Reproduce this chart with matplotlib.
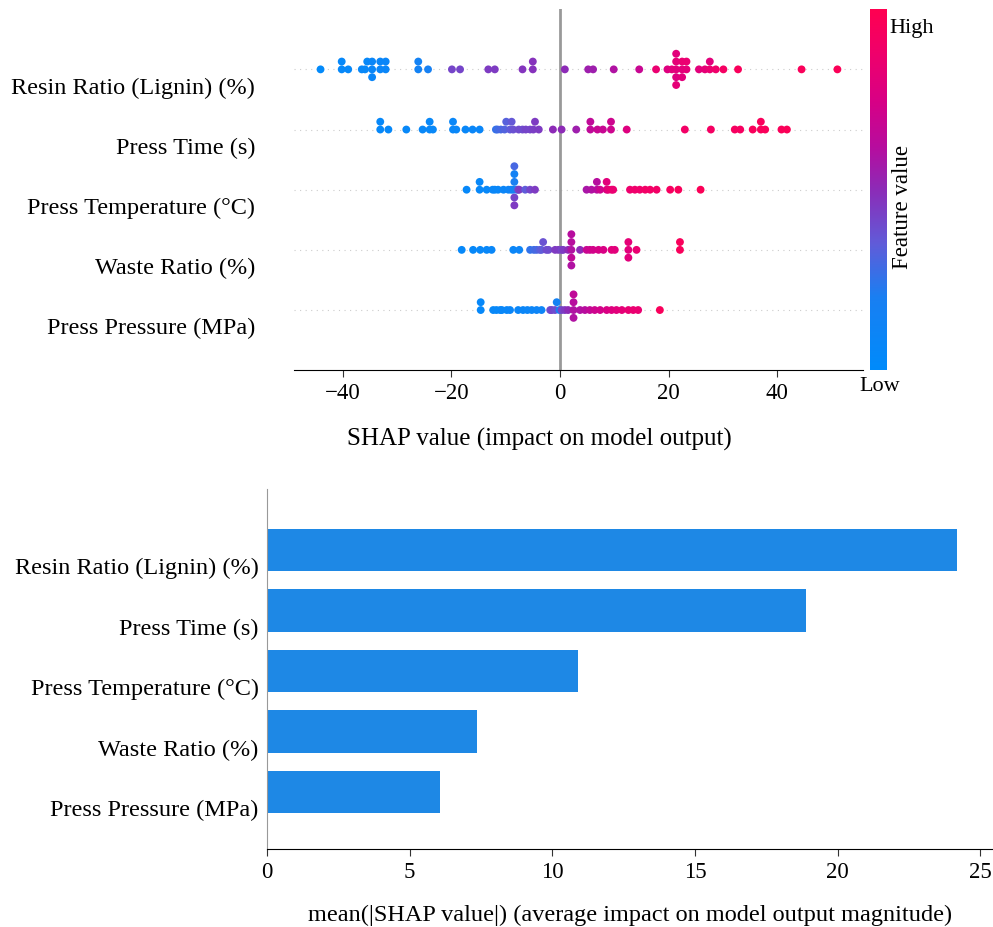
import numpy as np
import matplotlib
matplotlib.use("Agg")
import matplotlib.pyplot as plt
from matplotlib.colors import LinearSegmentedColormap

plt.rcParams['font.family'] = ['Liberation Serif', 'DejaVu Serif']

# features, top row first
features = ["Resin Ratio (Lignin) (%)", "Press Time (s)", "Press Temperature (°C)",
            "Waste Ratio (%)", "Press Pressure (MPa)"]

# shap values per feature
shap_resin = [-44.1, -40.2, -40.2, -39.0, -36.5, -35.9, -35.5, -34.6, -34.6, -34.6, -33.1, -33.1,
              -32.1, -32.1, -26.1, -26.1, -24.3, -19.9, -18.4, -13.2, -12.0, -6.9, -5.0, -5.0,
              0.9, 5.2, 6.1, 9.9, 14.6, 17.7, 19.8, 20.6, 21.4, 21.4, 21.4, 21.4, 21.4, 22.5,
              22.5, 22.5, 23.3, 23.3, 25.6, 26.7, 27.6, 27.6, 28.7, 30.1, 32.8, 44.5, 51.1]
feat_resin = [0.02, 0.05, 0.05, 0.05, 0.06, 0.06, 0.06, 0.08, 0.08, 0.08, 0.08, 0.08,
              0.08, 0.08, 0.15, 0.15, 0.18, 0.42, 0.42, 0.45, 0.45, 0.47, 0.48, 0.48,
              0.5, 0.55, 0.55, 0.6, 0.68, 0.85, 0.78, 0.8, 0.8, 0.82, 0.78, 0.8, 0.82, 0.8,
              0.85, 0.8, 0.82, 0.85, 0.8, 0.82, 0.85, 0.8, 0.88, 0.92, 0.95, 0.96, 0.97]

shap_time = [-33.1, -33.1, -31.6, -28.3, -25.3, -24.0, -24.0, -23.4, -19.7, -19.7, -19.1, -17.4,
             -16.1, -14.8, -11.8, -11.5, -10.9, -10.2, -9.9, -9.2, -8.9, -8.6, -7.6, -6.9,
             -6.3, -5.5, -4.9, -4.6, -3.9, -1.3, 0.3, 3.0, 5.6, 5.6, 6.9, 7.9, 9.4, 9.4,
             12.3, 23.0, 27.8, 32.2, 33.2, 35.5, 37.0, 37.0, 37.8, 40.8, 41.8]
feat_time = [0.05, 0.05, 0.05, 0.06, 0.06, 0.06, 0.06, 0.06, 0.07, 0.07, 0.07, 0.07,
             0.08, 0.08, 0.25, 0.28, 0.3, 0.32, 0.33, 0.35, 0.36, 0.38, 0.4, 0.4,
             0.42, 0.42, 0.44, 0.45, 0.45, 0.5, 0.5, 0.55, 0.65, 0.65, 0.68, 0.68, 0.7, 0.7,
             0.78, 0.9, 0.92, 0.93, 0.93, 0.95, 0.95, 0.95, 0.96, 0.96, 0.97]

shap_temp = [-17.2, -14.8, -14.8, -13.5, -12.4, -12.0, -11.4, -10.4, -9.5, -9.0, -8.6, -8.4,
             -8.4, -8.4, -8.4, -8.4, -8.0, -7.7, -7.5, -6.4, -5.5, -4.6, 4.9, 5.8, 6.8,
             6.8, 7.4, 8.6, 8.6, 8.9, 9.5, 9.8, 12.9, 13.8, 14.7, 15.7, 16.6, 17.8, 20.3,
             21.8, 25.9]
feat_temp = [0.05, 0.06, 0.06, 0.06, 0.07, 0.07, 0.07, 0.08, 0.1, 0.12, 0.15, 0.2,
             0.42, 0.15, 0.45, 0.3, 0.2, 0.4, 0.45, 0.35, 0.42, 0.45, 0.58, 0.6, 0.62,
             0.62, 0.7, 0.75, 0.8, 0.82, 0.85, 0.85, 0.87, 0.88, 0.88, 0.9, 0.9, 0.9, 0.93,
             0.95, 0.97]

shap_waste = [-18.1, -16.0, -14.7, -13.5, -12.6, -8.6, -7.5, -5.5, -4.8, -4.3, -3.7, -3.4,
              -3.1, -2.5, -2.1, -0.9, -0.3, 0.3, 0.6, 1.5, 2.1, 2.1, 2.1, 2.1, 2.1, 3.7,
              4.9, 5.5, 6.1, 7.1, 8.0, 9.5, 10.1, 12.6, 12.6, 12.6, 14.1, 22.1, 22.1]
feat_waste = [0.05, 0.05, 0.06, 0.06, 0.07, 0.08, 0.1, 0.25, 0.28, 0.3, 0.33, 0.35,
              0.38, 0.4, 0.4, 0.45, 0.45, 0.42, 0.45, 0.5, 0.6, 0.62, 0.65, 0.62, 0.6, 0.5,
              0.68, 0.7, 0.72, 0.74, 0.75, 0.8, 0.8, 0.8, 0.82, 0.8, 0.85, 0.95, 0.95]

shap_press = [-14.6, -14.6, -12.3, -11.7, -11.0, -10.7, -9.8, -9.2, -7.7, -6.8, -6.0, -5.2,
              -4.3, -3.4, -1.8, -1.5, -0.9, -0.6, -0.1, 0.3, 0.9, 1.5, 2.5, 2.5, 2.5, 2.5,
              3.7, 4.6, 5.5, 6.4, 7.4, 8.6, 9.5, 10.4, 11.4, 12.6, 13.5, 14.4, 18.4]
feat_press = [0.05, 0.05, 0.06, 0.06, 0.06, 0.07, 0.07, 0.08, 0.08, 0.08, 0.09, 0.09,
              0.1, 0.1, 0.4, 0.42, 0.4, 0.15, 0.2, 0.42, 0.45, 0.5, 0.6, 0.62, 0.6, 0.65,
              0.6, 0.62, 0.66, 0.7, 0.72, 0.75, 0.78, 0.8, 0.82, 0.84, 0.85, 0.85, 0.95]

# mean(|SHAP|) bars
mean_abs = [24.2, 18.9, 10.9, 7.35, 6.05]

shap_rows = [shap_resin, shap_time, shap_temp, shap_waste, shap_press]
feat_rows = [feat_resin, feat_time, feat_temp, feat_waste, feat_press]

red_blue = LinearSegmentedColormap.from_list("red_blue", [
    (0.0, (0.0, 0.545, 0.984)),
    (0.2, (0.10, 0.50, 0.95)),
    (0.35, (0.38, 0.36, 0.85)),
    (0.5, (0.55, 0.17, 0.72)),
    (0.62, (0.72, 0.05, 0.62)),
    (0.75, (0.85, 0.0, 0.52)),
    (0.88, (0.94, 0.0, 0.42)),
    (1.0, (1.0, 0.0, 0.318))])


def swarm_offsets(vals, step=0.13, nbins=100):
    # stacking like shap's beeswarm: mid, up, down, up2, down2...
    vals = np.asarray(vals, dtype=float)
    quant = np.round(nbins * (vals - vals.min()) / (vals.max() - vals.min() + 1e-8))
    inds = np.argsort(quant, kind="stable")
    layer = 0
    last_bin = -1
    ys = np.zeros(len(vals))
    for ind in inds:
        if quant[ind] != last_bin:
            layer = 0
        ys[ind] = np.ceil(layer / 2) * ((layer % 2) * 2 - 1)
        layer += 1
        last_bin = quant[ind]
    return ys * step


fig = plt.figure(figsize=(9.93, 9.28), dpi=100)
label_drop = 0.25  # feature names sit a bit below their rows

# beeswarm
ax = fig.add_axes([0.296, 0.6, 0.573, 0.389])
n = len(features)
for i, (sv, fv) in enumerate(zip(shap_rows, feat_rows)):
    pos = n - 1 - i
    ax.axhline(pos, color="#cccccc", lw=0.8, dashes=(1, 4), zorder=-1)
    ys = swarm_offsets(sv)
    ax.scatter(sv, pos + ys, c=fv, cmap=red_blue, vmin=0, vmax=1, s=32,
               linewidths=0, zorder=3)
ax.axvline(0, color="#999999", lw=2, zorder=-1)
ax.set_xlim(-49.0, 55.8)
ax.set_ylim(-1, n)
ax.set_yticks(np.arange(n) - label_drop)
ax.set_yticklabels(features[::-1], fontsize=17.5)
ax.tick_params(axis="y", length=0, pad=28)
ax.set_xticks([-40, -20, 0, 20, 40])
ax.set_xticklabels(["\u221240", "\u221220", "0", "20", "40"])
ax.tick_params(axis="x", labelsize=16.5, length=5, color="#333333")
ax.set_xlabel("SHAP value (impact on model output)", fontsize=18)
ax.xaxis.set_label_coords(0.432, -0.158)
for s in ["top", "right", "left"]:
    ax.spines[s].set_visible(False)

# colorbar
cax = fig.add_axes([0.876, 0.6, 0.017, 0.389])
grad = np.linspace(0, 1, 256).reshape(-1, 1)
cax.imshow(grad, aspect="auto", cmap=red_blue, origin="lower", extent=[0, 1, 0, 1])
cax.set_xticks([])
cax.set_yticks([])
for s in cax.spines.values():
    s.set_visible(False)
cax.text(1.15, 0.95, "High", transform=cax.transAxes, fontsize=16, va="center", ha="left")
cax.text(0.6, -0.042, "Low", transform=cax.transAxes, fontsize=16, va="center", ha="center")
cax.text(1.95, 0.455, "Feature value", transform=cax.transAxes, fontsize=16.5,
         rotation=90, va="center", ha="center")

# bar chart
bx = fig.add_axes([0.269, 0.084, 0.731, 0.388])
ypos = np.arange(n)[::-1]
bx.barh(ypos, mean_abs, height=0.7, color="#1E88E5")
bx.set_xlim(0, 25.45)
bx.set_ylim(-0.94, n + 0.01)
bx.set_yticks(ypos - label_drop)
bx.set_yticklabels(features, fontsize=17.5)
bx.tick_params(axis="y", length=0, pad=6)
bx.set_xticks([0, 5, 10, 15, 20, 25])
bx.tick_params(axis="x", labelsize=16.5, length=5, color="#333333")
bx.set_xlabel("mean(|SHAP value|) (average impact on model output magnitude)",
              fontsize=17.5, labelpad=16)
bx.spines["top"].set_visible(False)
bx.spines["right"].set_visible(False)
bx.spines["left"].set_color("#999999")

fig.savefig("out.png", dpi=100)
